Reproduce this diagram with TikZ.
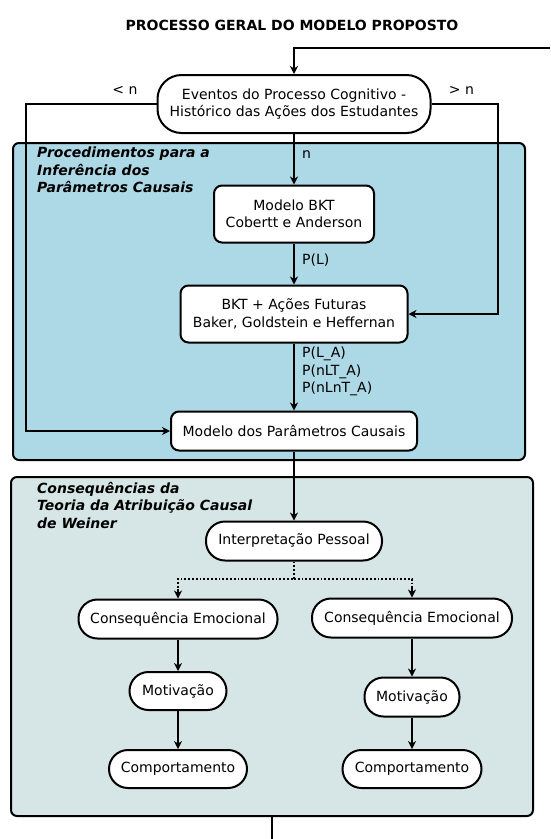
\documentclass[tikz,border=0pt]{standalone}
\usepackage{fontspec}
\setmainfont{DejaVu Sans}
\usetikzlibrary{arrows.meta}
\definecolor{bluepanel}{RGB}{173,216,230}
\definecolor{greypanel}{RGB}{214,230,230}
\tikzset{
  txt/.style={font=\fontsize{14}{17.5}\selectfont},
  arr/.style={line width=2pt,-{Stealth[length=8pt,width=8pt,inset=2.5pt]}},
  plain/.style={line width=2pt},
  dotline/.style={line width=1.8pt,dotted},
  stad/.style={draw,line width=2pt,fill=white,rounded corners=19pt,txt,align=center,inner sep=0pt},
  rbox/.style={draw,line width=2pt,fill=white,rounded corners=8pt,txt,align=center,inner sep=0pt},
  panel/.style={draw,line width=2pt,rounded corners=6pt},
  ptitle/.style={anchor=north west,inner sep=0pt,align=left,font=\fontsize{14}{17.5}\selectfont\bfseries\itshape},
  lbl/.style={anchor=west,inner sep=0pt,align=left,font=\fontsize{14}{17.5}\selectfont}
}
\begin{document}
\begin{tikzpicture}[x=1pt,y=-1pt]
\useasboundingbox (0,0) rectangle (550,839);
% panels
\draw[panel,fill=bluepanel] (13,143) rectangle (525,460);
\draw[panel,fill=greypanel] (11,477) rectangle (533,816);
\node[ptitle] (pt1) at (37,147) {Procedimentos para a\\Inferência dos\\Parâmetros Causais};
\node[ptitle] (pt2) at (37,482) {Consequências da\\Teoria da Atribuição Causal\\de Weiner};
% title
\node[font=\fontsize{14}{16}\selectfont\bfseries] (title) at (292,25) {PROCESSO GERAL DO MODELO PROPOSTO};
% nodes
\node[stad,rounded corners=24pt,minimum width=273pt,minimum height=58pt] (ev) at (294,104) {Eventos do Processo Cognitivo -\\Histórico das Ações dos Estudantes};
\node[rbox,minimum width=160pt,minimum height=57pt] (bkt) at (294,214) {Modelo BKT\\Cobertt e Anderson};
\node[rbox,minimum width=227pt,minimum height=57pt] (bktp) at (294,314) {BKT + Ações Futuras\\Baker, Goldstein e Heffernan};
\node[rbox,minimum width=246pt,minimum height=39pt] (mpc) at (294,431) {Modelo dos Parâmetros Causais};
\node[stad,minimum width=176pt,minimum height=39pt] (ip) at (294,541) {Interpretação Pessoal};
\node[stad,minimum width=199pt,minimum height=39pt] (ce1) at (178,619) {Consequência Emocional};
\node[stad,minimum width=200pt,minimum height=39pt] (ce2) at (412,618) {Consequência Emocional};
\node[stad,minimum width=97pt,minimum height=38pt] (mo1) at (178,691) {Motivação};
\node[stad,minimum width=95pt,minimum height=39pt] (mo2) at (412,697) {Motivação};
\node[stad,minimum width=138pt,minimum height=38pt] (co1) at (178,769) {Comportamento};
\node[stad,minimum width=139pt,minimum height=38pt] (co2) at (412,769) {Comportamento};
% side labels
\node[txt] (ln) at (125,90) {< n};
\node[txt] (gn) at (461.5,90) {> n};
% connectors
\coordinate (tr) at (550,48);
\draw[arr] (tr) -| (ev.north);
\coordinate (cl) at (26,104);
\draw[arr] (ev.west) -- (cl) |- (mpc.west);
\coordinate (cr) at (498,104);
\draw[arr] (ev.east) -- (cr) |- (bktp.east);
\draw[arr] (ev.south) -- (bkt.north);
\node[lbl] (ln1) at (302,155) {n};
\draw[arr] (bkt.south) -- (bktp.north);
\node[lbl] (ln2) at (302,260) {P(L)};
\draw[arr] (bktp.south) -- (mpc.north);
\node[lbl,anchor=north west] (ln3) at (302,347) {P(L\_A)\\P(nLT\_A)\\P(nLnT\_A)};
\draw[arr] (mpc.south) -- (ip.north);
\coordinate (sp) at (294,579);
\coordinate (d1) at (178,589);
\coordinate (d2) at (412,588);
\draw[dotline] (ip.south) -- (sp) -| (d1);
\draw[dotline] (sp) -| (d2);
\draw[arr] (d1) -- (ce1.north);
\draw[arr] (d2) -- (ce2.north);
\draw[arr] (ce1.south) -- (mo1.north);
\draw[arr] (ce2.south) -- (mo2.north);
\draw[arr] (mo1.south) -- (co1.north);
\draw[arr] (mo2.south) -- (co2.north);
\coordinate (b1) at (272,816);
\coordinate (b2) at (272,839);
\draw[plain] (b1) -- (b2);
\end{tikzpicture}
\end{document}
